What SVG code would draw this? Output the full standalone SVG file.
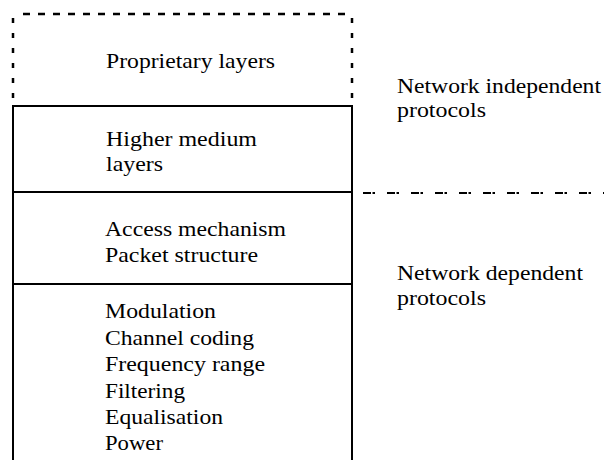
<svg xmlns="http://www.w3.org/2000/svg" width="604" height="460" viewBox="0 0 604 460">
<style>
text{font-family:"Liberation Serif","Times New Roman",serif;font-size:22px;fill:#000}
.solid{stroke:#000;stroke-width:2;fill:none}
.dash{stroke:#000;stroke-width:2.5;fill:none}
</style>
<rect width="604" height="460" fill="#fff"/>
<g id="proprietary">
<line class="dash" x1="23" y1="14" x2="352" y2="14" stroke-dasharray="7 8"/>
<line class="dash" x1="13" y1="18" x2="13" y2="100" stroke-dasharray="5 10"/>
<line class="dash" x1="352" y1="18" x2="352" y2="100" stroke-dasharray="5 10"/>
<text x="106" y="68" textLength="169" lengthAdjust="spacingAndGlyphs">Proprietary layers</text>
</g>
<g id="higher">
<line class="solid" x1="12" y1="106" x2="353" y2="106"/>
<text x="106" y="146" textLength="151" lengthAdjust="spacingAndGlyphs">Higher medium</text>
<text x="106" y="171" textLength="57" lengthAdjust="spacingAndGlyphs">layers</text>
</g>
<g id="access">
<line class="solid" x1="12" y1="192" x2="353" y2="192"/>
<text x="105" y="236" textLength="181" lengthAdjust="spacingAndGlyphs">Access mechanism</text>
<text x="105" y="262" textLength="153" lengthAdjust="spacingAndGlyphs">Packet structure</text>
</g>
<g id="physical">
<line class="solid" x1="12" y1="284" x2="353" y2="284"/>
<text x="105" y="318" textLength="111" lengthAdjust="spacingAndGlyphs">Modulation</text>
<text x="105" y="344.5" textLength="149" lengthAdjust="spacingAndGlyphs">Channel coding</text>
<text x="105" y="371" textLength="160" lengthAdjust="spacingAndGlyphs">Frequency range</text>
<text x="105" y="397.5" textLength="80" lengthAdjust="spacingAndGlyphs">Filtering</text>
<text x="105" y="424" textLength="118" lengthAdjust="spacingAndGlyphs">Equalisation</text>
<text x="105" y="450" textLength="58" lengthAdjust="spacingAndGlyphs">Power</text>
</g>
<g id="frame">
<line class="solid" x1="13" y1="106" x2="13" y2="460"/>
<line class="solid" x1="352" y1="106" x2="352" y2="460"/>
</g>
<g id="connectors">
<line x1="363" y1="193" x2="604" y2="193" stroke="#000" stroke-width="2" stroke-dasharray="8 1.5 2.5 12"/>
</g>
<g id="labels">
<text x="397" y="93" textLength="204" lengthAdjust="spacingAndGlyphs">Network independent</text>
<text x="397" y="117" textLength="89" lengthAdjust="spacingAndGlyphs">protocols</text>
<text x="397" y="280" textLength="186" lengthAdjust="spacingAndGlyphs">Network dependent</text>
<text x="397" y="305" textLength="89" lengthAdjust="spacingAndGlyphs">protocols</text>
</g>
</svg>
